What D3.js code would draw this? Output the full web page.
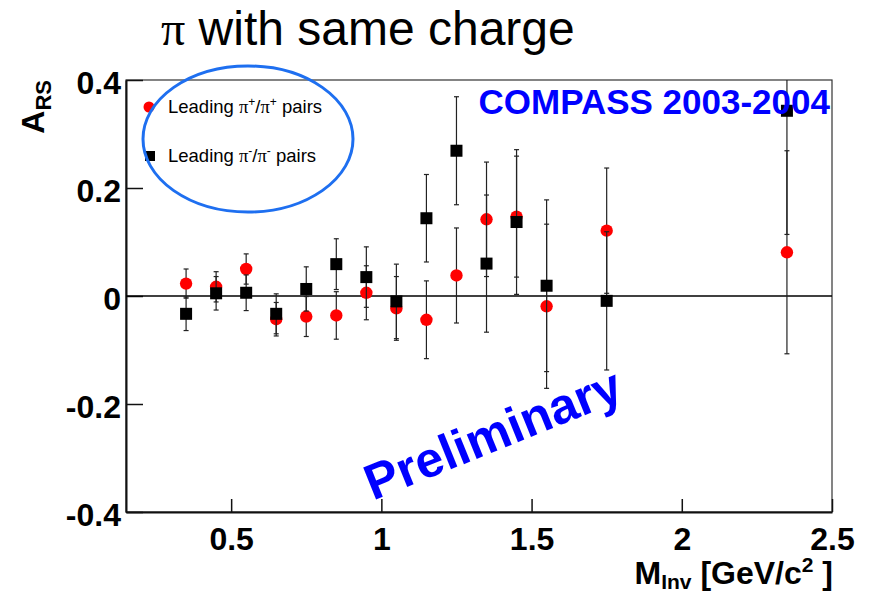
<!DOCTYPE html>
<html>
<head>
<meta charset="utf-8">
<script src="https://cdn.jsdelivr.net/npm/d3@7"></script>
<style>
  body { margin: 0; background: #fff; }
  svg { display: block; }
  text { font-family: "Liberation Sans", Arial, sans-serif; }
</style>
</head>
<body>
<svg id="chart" width="869" height="595"></svg>
<script>
// invariant mass bin centres (GeV/c^2)
const massBins = [0.35, 0.45, 0.55, 0.65, 0.75, 0.85, 0.95, 1.05, 1.15, 1.25, 1.35, 1.45, 1.55, 1.75, 2.35];

// leading pi+/pi+ pairs
const plusA   = [0.023, 0.017, 0.050, -0.043, -0.038, -0.036, 0.006, -0.023, -0.044, 0.038, 0.142, 0.147, -0.019, 0.121, 0.081];
const plusErr = [0.027, 0.028, 0.028, 0.031, 0.037, 0.044, 0.050, 0.059, 0.072, 0.088, 0.106, 0.112, 0.152, 0.116, 0.188];

// leading pi-/pi- pairs
const minusA   = [-0.033, 0.005, 0.006, -0.033, 0.013, 0.059, 0.035, -0.010, 0.144, 0.269, 0.060, 0.137, 0.019, -0.009, 0.343];
const minusErr = [0.031, 0.031, 0.033, 0.037, 0.041, 0.047, 0.056, 0.069, 0.081, 0.100, 0.127, 0.134, 0.159, 0.128, 0.229];

const xTicks = [0.5, 1, 1.5, 2, 2.5];
const xTickLabels = ['0.5', '1', '1.5', '2', '2.5'];
const yTicks = [-0.4, -0.2, 0, 0.2, 0.4];
const yTickLabels = ['-0.4', '-0.2', '0', '0.2', '0.4'];

const svg = d3.select('#chart');

const x = d3.scaleLinear().domain([0.15, 2.5]).range([126, 832]);
const y = d3.scaleLinear().domain([-0.4, 0.4]).range([512, 80]);

svg.append('defs').append('clipPath').attr('id', 'plotClip')
  .append('rect')
  .attr('x', x.range()[0]).attr('y', y.range()[1])
  .attr('width', x.range()[1] - x.range()[0])
  .attr('height', y.range()[0] - y.range()[1]);

// frame
svg.append('rect')
  .attr('x', x.range()[0]).attr('y', y.range()[1])
  .attr('width', x.range()[1] - x.range()[0])
  .attr('height', y.range()[0] - y.range()[1])
  .attr('fill', 'none')
  .attr('stroke', '#333')
  .attr('stroke-width', 1.2);

// axes
const xAxis = d3.axisBottom(x)
  .tickValues(xTicks)
  .tickFormat((d, i) => xTickLabels[i])
  .tickSizeInner(-13).tickSizeOuter(0).tickPadding(15);

const yAxis = d3.axisLeft(y)
  .tickValues(yTicks)
  .tickFormat((d, i) => yTickLabels[i])
  .tickSizeInner(-17).tickSizeOuter(0).tickPadding(5);

const gx = svg.append('g').attr('transform', `translate(0,${y.range()[0]})`).call(xAxis);
const gy = svg.append('g').attr('transform', `translate(${x.range()[0]},0)`).call(yAxis);

[gx, gy].forEach(g => {
  g.select('.domain').attr('stroke', '#111').attr('stroke-width', 2);
  g.selectAll('.tick line').attr('stroke', '#111').attr('stroke-width', 1.5);
  g.selectAll('.tick text')
    .attr('fill', '#000')
    .style('font-family', '"Liberation Sans", Arial, sans-serif')
    .style('font-size', '32px')
    .style('font-weight', 'bold');
});
gy.selectAll('.tick text').attr('dy', '0.42em');

// zero line
svg.append('line')
  .attr('x1', x.range()[0]).attr('x2', x.range()[1])
  .attr('y1', y(0)).attr('y2', y(0))
  .attr('stroke', '#000').attr('stroke-width', 1.5);

const plot = svg.append('g').attr('clip-path', 'url(#plotClip)');

function drawErrors(vals, errs) {
  const g = plot.append('g').attr('stroke', '#222').attr('stroke-width', 1.2);
  massBins.forEach((m, i) => {
    const lo = y(vals[i] - errs[i]);
    const hi = y(vals[i] + errs[i]);
    g.append('line').attr('x1', x(m)).attr('x2', x(m)).attr('y1', lo).attr('y2', hi);
    g.append('line').attr('x1', x(m) - 2.5).attr('x2', x(m) + 2.5).attr('y1', lo).attr('y2', lo);
    g.append('line').attr('x1', x(m) - 2.5).attr('x2', x(m) + 2.5).attr('y1', hi).attr('y2', hi);
  });
}

// pi+ pairs: red circles
drawErrors(plusA, plusErr);
plot.append('g').selectAll('circle')
  .data(massBins)
  .join('circle')
  .attr('cx', d => x(d))
  .attr('cy', (d, i) => y(plusA[i]))
  .attr('r', 6.2)
  .attr('fill', '#ff0000');

// pi- pairs: black squares
drawErrors(minusA, minusErr);
plot.append('g').selectAll('rect')
  .data(massBins)
  .join('rect')
  .attr('x', d => x(d) - 6)
  .attr('y', (d, i) => y(minusA[i]) - 6)
  .attr('width', 12).attr('height', 12)
  .attr('fill', '#000');

// legend
const legend = svg.append('g');
legend.append('circle').attr('cx', 149).attr('cy', 107).attr('r', 5.5).attr('fill', '#ff0000');
legend.append('rect').attr('x', 145).attr('y', 151).attr('width', 10).attr('height', 10).attr('fill', '#000');

function legendLabel(yPos, sign) {
  const t = legend.append('text').attr('x', 168).attr('y', yPos)
    .style('font-size', '18.5px').attr('fill', '#000');
  t.append('tspan').text('Leading ');
  t.append('tspan').style('font-family', '"Liberation Serif", serif').text('π');
  t.append('tspan').attr('dy', -7).style('font-size', '12px').text(sign);
  t.append('tspan').attr('dy', 7).text('/');
  t.append('tspan').style('font-family', '"Liberation Serif", serif').text('π');
  t.append('tspan').attr('dy', -7).style('font-size', '12px').text(sign);
  t.append('tspan').attr('dy', 7).text(' pairs');
}
legendLabel(113, '+');
legendLabel(162, '-');

svg.append('ellipse')
  .attr('cx', 248).attr('cy', 139).attr('rx', 105).attr('ry', 73)
  .attr('fill', 'none').attr('stroke', '#1e6ff0').attr('stroke-width', 3);

// COMPASS label
svg.append('text')
  .attr('x', 830).attr('y', 114)
  .attr('text-anchor', 'end')
  .style('font-size', '35px').style('font-weight', 'bold')
  .attr('fill', '#0000ff')
  .text('COMPASS 2003-2004');

// Preliminary stamp
svg.append('text')
  .attr('transform', 'translate(493,434) rotate(-22)')
  .attr('text-anchor', 'middle')
  .attr('dominant-baseline', 'central')
  .style('font-size', '50px').style('font-weight', 'bold')
  .attr('fill', '#0000ff')
  .text('Preliminary');

// title
const title = svg.append('text').attr('x', 161).attr('y', 45).style('font-size', '48px').attr('fill', '#000');
title.append('tspan').style('font-family', '"Liberation Serif", serif').text('π');
title.append('tspan').text(' with same charge');

// x axis title
const xt = svg.append('text').attr('x', 833).attr('y', 584)
  .attr('text-anchor', 'end')
  .style('font-size', '32px').style('font-weight', 'bold').attr('fill', '#000');
xt.append('tspan').text('M');
xt.append('tspan').attr('dy', 5).style('font-size', '21px').text('Inv');
xt.append('tspan').attr('dy', -5).text(' [GeV/c');
xt.append('tspan').attr('dy', -12).style('font-size', '21px').text('2');
xt.append('tspan').attr('dy', 12).text(' ]');

// y axis title
const yt = svg.append('text')
  .attr('transform', 'translate(44,80) rotate(-90)')
  .attr('text-anchor', 'end')
  .style('font-size', '32px').style('font-weight', 'bold').attr('fill', '#000');
yt.append('tspan').text('A');
yt.append('tspan').attr('dy', 7).style('font-size', '22px').text('RS');
</script>
</body>
</html>
